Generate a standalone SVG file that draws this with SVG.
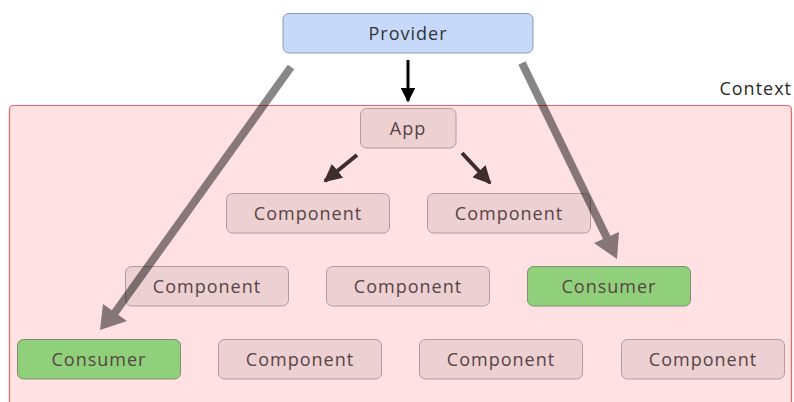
<svg xmlns="http://www.w3.org/2000/svg" width="794" height="402" viewBox="0 0 794 402">
  <defs>
    <style>
      .lbl { font-family: "Open Sans", "Liberation Sans", sans-serif; font-size: 18px; fill: #574445; text-anchor: middle; dominant-baseline: central; letter-spacing: 1px; }
      .comp { fill: #ecd0d2; stroke: #b59a9c; stroke-width: 1; }
      .cons { fill: #90d07a; stroke: #7f8f6f; stroke-width: 1; }
      .prov { fill: #c6d9fb; stroke: #8d9bb0; stroke-width: 1; }
      .flow { stroke: #3f2c2c; stroke-width: 4; fill: none; }
      .ctx  { stroke: #000; stroke-width: 8; fill: none; }
    </style>
    <marker id="head-dark" viewBox="0 0 10 10" refX="9" refY="5" markerWidth="4.5" markerHeight="4.5" orient="auto" markerUnits="strokeWidth">
      <path d="M0,0 L10,5 L0,10 Z" fill="#3f2c2c"/>
    </marker>
    <marker id="head-black" viewBox="0 0 10 10" refX="9" refY="5" markerWidth="5" markerHeight="5" orient="auto" markerUnits="strokeWidth">
      <path d="M0,0 L10,5 L0,10 Z" fill="#000"/>
    </marker>
  </defs>

  <!-- Context region -->
  <g id="context">
    <rect x="9.5" y="105.5" width="782" height="310" rx="4" fill="#ffe1e3" stroke="#f06464" stroke-width="1.2"/>
    <text class="lbl" x="792" y="88" style="text-anchor:end; fill:#2a2a2a;">Context</text>
  </g>

  <g id="provider">
    <rect class="prov" x="283" y="13.5" width="250" height="39.5" rx="6"/>
    <text class="lbl" x="408" y="33" style="fill:#333;">Provider</text>
  </g>

  <g id="app">
    <rect class="comp" x="360.5" y="108.5" width="95.5" height="39.5" rx="6"/>
    <text class="lbl" x="408" y="128">App</text>
  </g>

  <g id="component-1a">
    <rect class="comp" x="226.5" y="193.5" width="163" height="39.5" rx="6"/>
    <text class="lbl" x="308" y="213">Component</text>
  </g>
  <g id="component-1b">
    <rect class="comp" x="427.5" y="193.5" width="163" height="39.5" rx="6"/>
    <text class="lbl" x="509" y="213">Component</text>
  </g>

  <g id="component-2a">
    <rect class="comp" x="125.5" y="266.5" width="163" height="39.5" rx="6"/>
    <text class="lbl" x="207" y="286">Component</text>
  </g>
  <g id="component-2b">
    <rect class="comp" x="326.5" y="266.5" width="163" height="39.5" rx="6"/>
    <text class="lbl" x="408" y="286">Component</text>
  </g>
  <g id="consumer-2">
    <rect class="cons" x="527.5" y="266.5" width="163" height="39.5" rx="6"/>
    <text class="lbl" x="609" y="286">Consumer</text>
  </g>

  <g id="consumer-3">
    <rect class="cons" x="17.5" y="339.5" width="163" height="39.5" rx="6"/>
    <text class="lbl" x="99" y="359">Consumer</text>
  </g>
  <g id="component-3a">
    <rect class="comp" x="218.5" y="339.5" width="163" height="39.5" rx="6"/>
    <text class="lbl" x="300" y="359">Component</text>
  </g>
  <g id="component-3b">
    <rect class="comp" x="419.5" y="339.5" width="163" height="39.5" rx="6"/>
    <text class="lbl" x="501" y="359">Component</text>
  </g>
  <g id="component-3c">
    <rect class="comp" x="621.5" y="339.5" width="163" height="39.5" rx="6"/>
    <text class="lbl" x="703" y="359">Component</text>
  </g>

  <!-- Connectors -->
  <g id="connectors">
    <line x1="408" y1="60" x2="408" y2="101" stroke="#000" stroke-width="3" marker-end="url(#head-black)"/>
    <line class="flow" x1="357" y1="155" x2="325" y2="181" marker-end="url(#head-dark)"/>
    <line class="flow" x1="462" y1="153" x2="490" y2="183" marker-end="url(#head-dark)"/>
    <!-- translucent context lines skipping past the tree -->
    <g opacity="0.47">
      <path class="ctx" d="M291,67 L114,314"/>
      <path d="M100,330 L103,304 L127,321 Z" fill="#000"/>
    </g>
    <g opacity="0.47">
      <path class="ctx" d="M522,63 L607,238"/>
      <path d="M617,259 L594,243 L619,232 Z" fill="#000"/>
    </g>
  </g>
</svg>
